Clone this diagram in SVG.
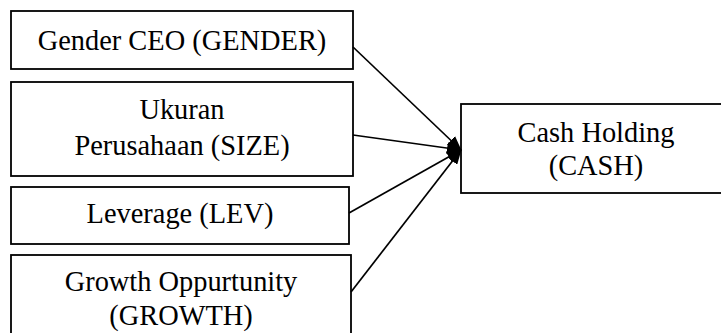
<svg xmlns="http://www.w3.org/2000/svg" width="721" height="333" viewBox="0 0 721 333">
<style>
.box{fill:#fff;stroke:#000;stroke-width:1.8}
.t{font-family:"Liberation Serif","Times New Roman",serif;font-size:28.4px;fill:#000;text-anchor:middle}
.c{stroke:#000;stroke-width:1.7;fill:none}
</style>
<defs>
<marker id="ah" markerWidth="15" markerHeight="12" refX="14" refY="6" orient="auto" markerUnits="userSpaceOnUse">
<path d="M0,0 L15,6 L0,12 Z" fill="#000"/>
</marker>
</defs>
<rect width="721" height="333" fill="#fff"/>
<g id="gender">
<rect class="box" x="11" y="11" width="342" height="58"/>
<text class="t" x="182" y="50">Gender CEO (GENDER)</text>
</g>
<g id="size">
<rect class="box" x="11" y="82" width="342" height="94"/>
<text class="t" x="182" y="119">Ukuran</text>
<text class="t" x="182" y="155">Perusahaan (SIZE)</text>
</g>
<g id="lev">
<rect class="box" x="11" y="187" width="338" height="57"/>
<text class="t" x="180" y="223">Leverage (LEV)</text>
</g>
<g id="growth">
<rect class="box" x="11" y="255" width="340" height="90"/>
<text class="t" x="181" y="291">Growth Oppurtunity</text>
<text class="t" x="181" y="325">(GROWTH)</text>
</g>
<g id="cash">
<rect class="box" x="461" y="104" width="270" height="89"/>
<text class="t" x="596" y="142">Cash Holding</text>
<text class="t" x="596" y="175">(CASH)</text>
</g>
<g id="connectors">
<line class="c" x1="353" y1="47" x2="461" y2="150" marker-end="url(#ah)"/>
<line class="c" x1="353" y1="135" x2="461" y2="150" marker-end="url(#ah)"/>
<line class="c" x1="349" y1="213" x2="461" y2="150" marker-end="url(#ah)"/>
<line class="c" x1="351" y1="292" x2="461" y2="150" marker-end="url(#ah)"/>
</g>
</svg>
